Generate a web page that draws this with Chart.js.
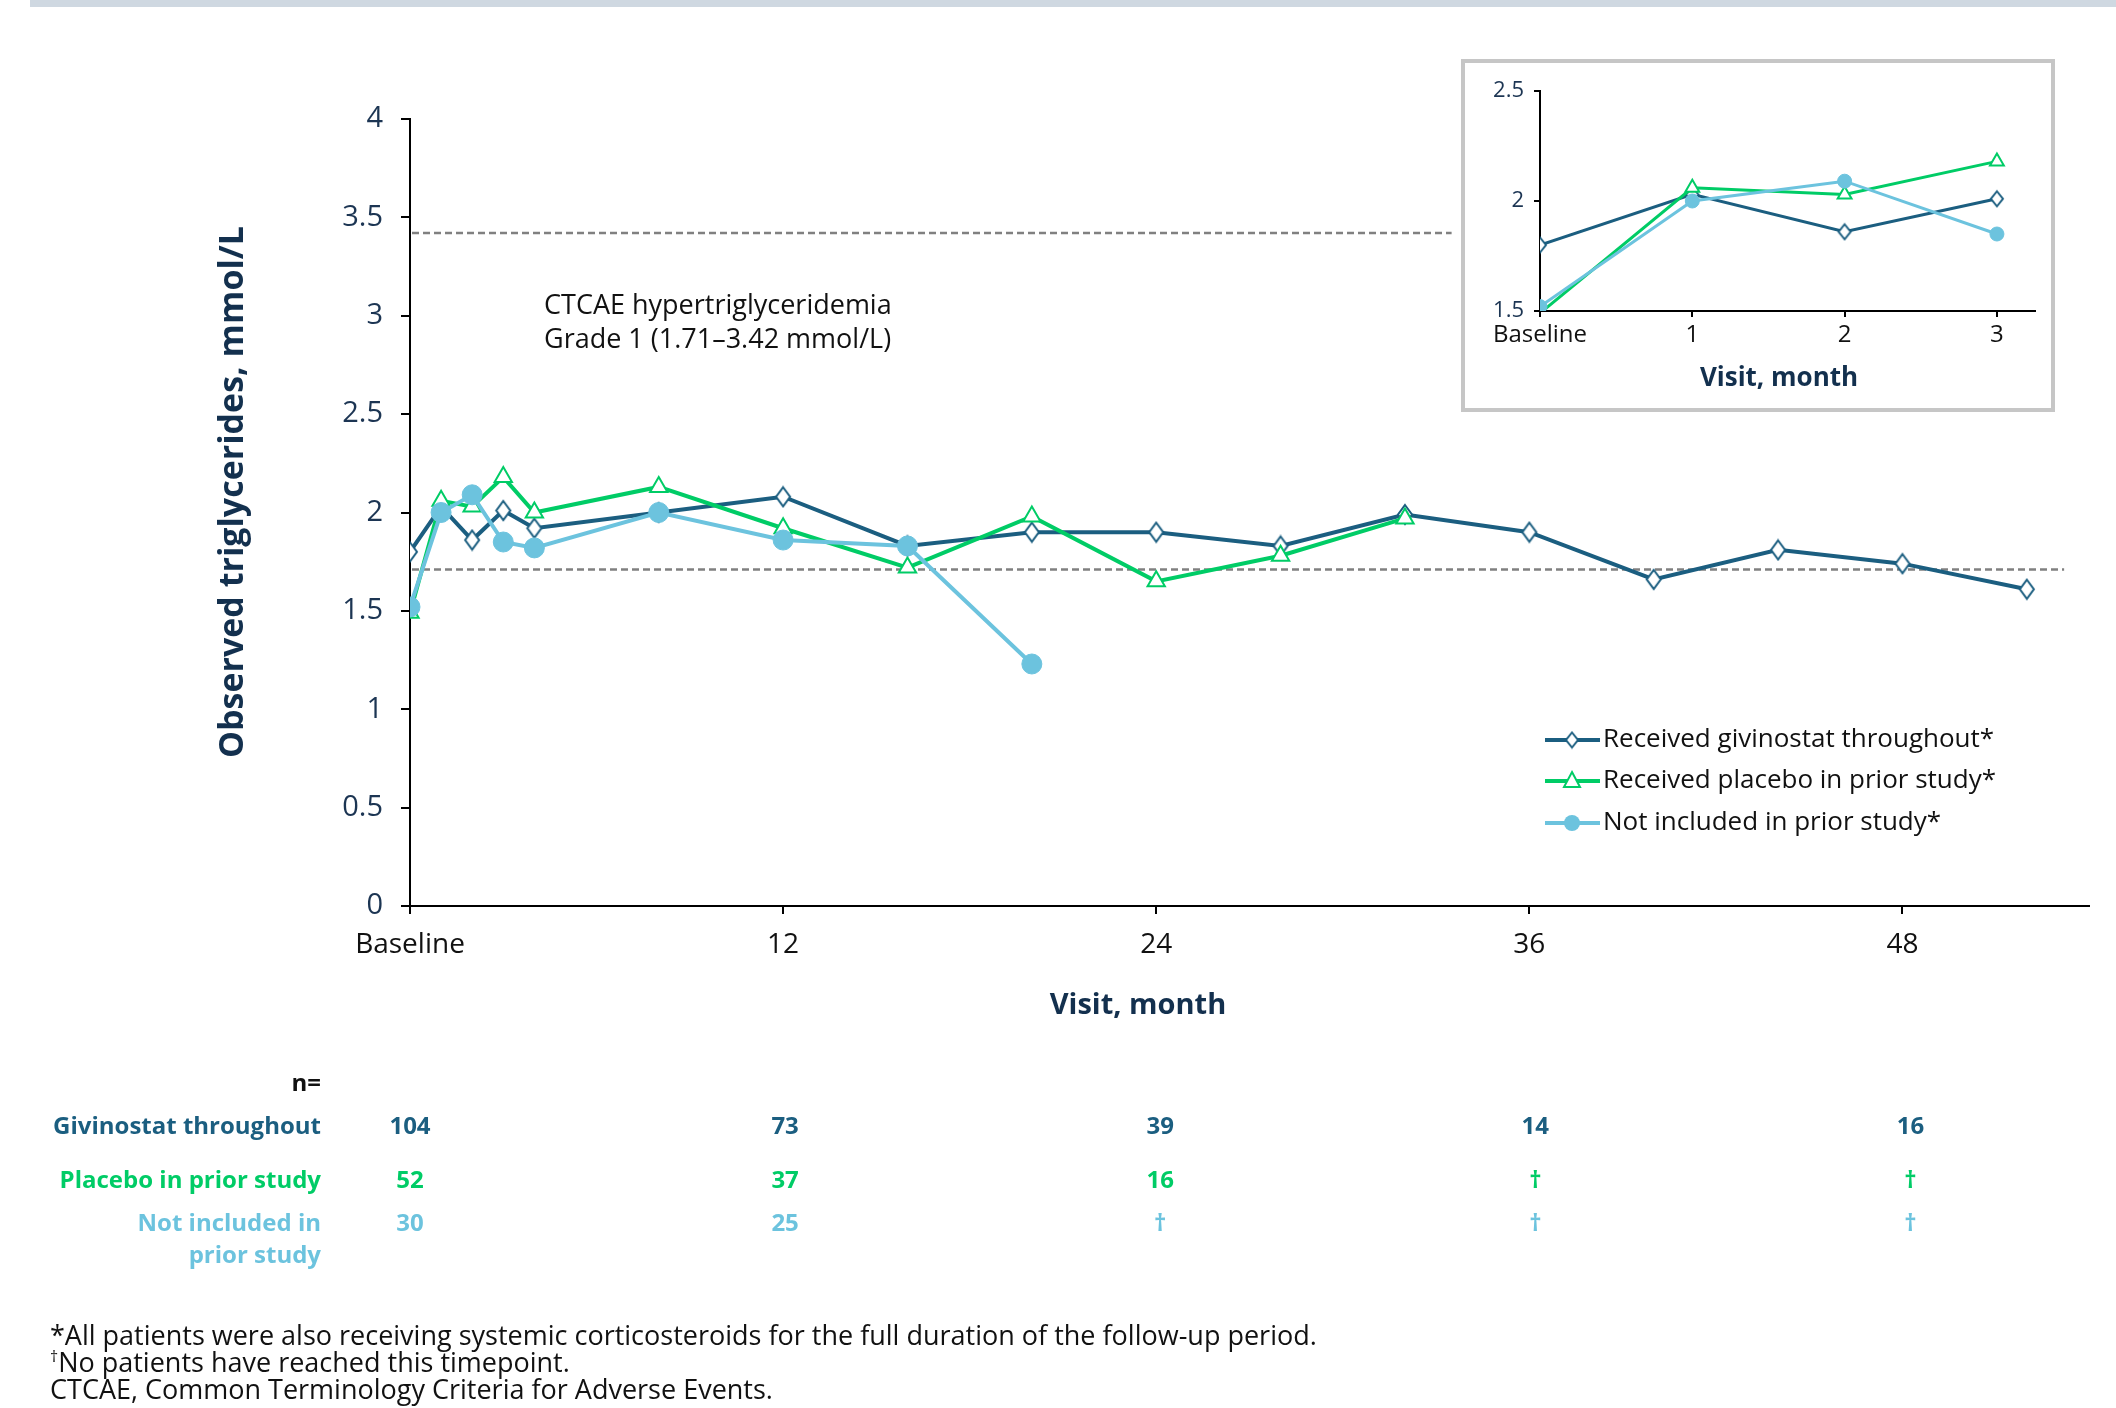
<!DOCTYPE html>
<html lang="en">
<head>
<meta charset="UTF-8">
<title>Observed triglycerides by visit</title>
<script src="https://cdn.jsdelivr.net/npm/chart.js"></script>
<style>
  html, body { margin: 0; padding: 0; background: #fff; }
  body { width: 2116px; height: 1408px; position: relative; overflow: hidden; font-family: 'Open Sans', sans-serif; }
  #topBar { position: absolute; left: 30px; top: 0; width: 2086px; height: 7px; background: #cfd8e1; }
  #mainChart { position: absolute; left: 0; top: 0; }
  #insetBox { position: absolute; left: 1461px; top: 59px; width: 586px; height: 345px; border: 4px solid #c6c6c6; background: #fff; }
  #insetChart { position: absolute; left: 0; top: 0; }
</style>
</head>
<body>
<div id="topBar"></div>
<canvas id="mainChart" width="2116" height="1408"></canvas>
<div id="insetBox"><canvas id="insetChart" width="586" height="345"></canvas></div>

<script>
// --- data ---
const seriesNames = ['Received givinostat throughout*', 'Received placebo in prior study*', 'Not included in prior study*'];
const givinostatMonths = [0, 1, 2, 3, 4, 8, 12, 16, 20, 24, 28, 32, 36, 40, 44, 48, 52];
const givinostatValues = [1.80, 2.03, 1.86, 2.01, 1.92, 2.00, 2.08, 1.83, 1.90, 1.90, 1.83, 1.99, 1.90, 1.66, 1.81, 1.74, 1.61];
const placeboMonths = [0, 1, 2, 3, 4, 8, 12, 16, 20, 24, 28, 32];
const placeboValues = [1.49, 2.06, 2.03, 2.18, 2.00, 2.13, 1.92, 1.72, 1.98, 1.65, 1.78, 1.97];
const notIncludedMonths = [0, 1, 2, 3, 4, 8, 12, 16, 20];
const notIncludedValues = [1.52, 2.00, 2.09, 1.85, 1.82, 2.00, 1.86, 1.83, 1.23];

const xTickValues = [0, 12, 24, 36, 48];
const insetTickValues = [0, 1, 2, 3];
const gradeLow = 1.71, gradeHigh = 3.42;

const tableMonths = [0, 12, 24, 36, 48];
const tableLabels = [['Givinostat throughout'], ['Placebo in prior study'], ['Not included in', 'prior study']];
const nGivinostat = ['104', '73', '39', '14', '16'];
const nPlacebo = ['52', '37', '16', '\u2020', '\u2020'];
const nNotIncluded = ['30', '25', '\u2020', '\u2020', '\u2020'];

const footnotes = [
  ['*', 'All patients were also receiving systemic corticosteroids for the full duration of the follow-up period.'],
  ['\u2020', 'No patients have reached this timepoint.'],
  ['', 'CTCAE, Common Terminology Criteria for Adverse Events.']
];

// --- styling ---
const FONT = "'Open Sans', sans-serif";
const DARK = '#1b5e80';
const GREEN = '#00cc66';
const LIGHT = '#6cc3de';
const NAVY = '#1c3553';
const TEXT = '#111111';

const toXY = (xs, ys) => xs.map((x, i) => ({ x: x, y: ys[i] }));
const fmtNum = v => String(Math.round(v * 10) / 10);

function makeDiamond(w, h, color, lw) {
  const c = document.createElement('canvas');
  c.width = w + lw * 2; c.height = h + lw * 2;
  const g = c.getContext('2d');
  const cx = c.width / 2, cy = c.height / 2;
  g.beginPath();
  g.moveTo(cx, cy - h / 2); g.lineTo(cx + w / 2, cy);
  g.lineTo(cx, cy + h / 2); g.lineTo(cx - w / 2, cy); g.closePath();
  g.fillStyle = '#fff'; g.fill();
  g.lineWidth = lw; g.strokeStyle = color; g.stroke();
  return c;
}

const bigDiamond = makeDiamond(14, 19, DARK, 2);
const smallDiamond = makeDiamond(12, 15, DARK, 2);

function buildDatasets(small) {
  const lim = small ? (m => m <= 3) : (() => true);
  const pick = (xs, ys) => toXY(xs, ys).filter(p => lim(p.x));
  return [
    {
      label: seriesNames[0], data: pick(givinostatMonths, givinostatValues),
      borderColor: DARK, borderWidth: small ? 3 : 4,
      pointStyle: small ? smallDiamond : bigDiamond, order: 3
    },
    {
      label: seriesNames[1], data: pick(placeboMonths, placeboValues),
      borderColor: GREEN, borderWidth: small ? 3 : 4,
      pointStyle: 'triangle', pointRadius: small ? 8 : 10, pointBackgroundColor: '#fff',
      pointBorderColor: GREEN, pointBorderWidth: 2, order: 2
    },
    {
      label: seriesNames[2], data: pick(notIncludedMonths, notIncludedValues),
      borderColor: LIGHT, borderWidth: small ? 3 : 4,
      pointStyle: 'circle', pointRadius: small ? 7 : 10, pointBackgroundColor: LIGHT,
      pointBorderColor: LIGHT, pointBorderWidth: 1, order: 1
    }
  ];
}

// extra drawing for the main chart: reference lines, text, legend, n table, footnotes
const mainExtras = {
  id: 'mainExtras',
  beforeDatasetsDraw(chart) {
    const { ctx, scales: { x, y } } = chart;
    ctx.save();
    ctx.strokeStyle = '#808080';
    ctx.lineWidth = 2.5;
    ctx.setLineDash([7, 4]);
    [[gradeHigh, 33.5], [gradeLow, 53.2]].forEach(([v, end]) => {
      const py = y.getPixelForValue(v);
      ctx.beginPath();
      ctx.moveTo(x.getPixelForValue(0) + 2, py);
      ctx.lineTo(x.getPixelForValue(end), py);
      ctx.stroke();
    });
    ctx.restore();
  },
  afterDraw(chart) {
    const { ctx, scales: { x }, chartArea } = chart;
    ctx.save();
    ctx.textBaseline = 'middle';

    // annotation
    ctx.fillStyle = TEXT;
    ctx.font = '27px ' + FONT;
    ctx.textAlign = 'left';
    ctx.fillText('CTCAE hypertriglyceridemia', 544, 306);
    ctx.fillText('Grade 1 (1.71\u20133.42 mmol/L)', 544, 340);

    // axis titles
    ctx.fillStyle = '#13304e';
    ctx.font = 'bold 34px ' + FONT;
    ctx.textAlign = 'center';
    ctx.save();
    ctx.translate(233, 492);
    ctx.rotate(-Math.PI / 2);
    ctx.fillText('Observed triglycerides, mmol/L', 0, 0);
    ctx.restore();
    ctx.font = 'bold 29px ' + FONT;
    ctx.fillText('Visit, month', 1138, 1006);

    // legend
    const colors = [DARK, GREEN, LIGHT];
    const rows = [740, 781, 823];
    rows.forEach((ry, i) => {
      ctx.strokeStyle = colors[i];
      ctx.lineWidth = 4;
      ctx.beginPath(); ctx.moveTo(1545, ry); ctx.lineTo(1600, ry); ctx.stroke();
      const mx = 1572;
      if (i === 0) {
        ctx.drawImage(smallDiamond, mx - smallDiamond.width / 2, ry - smallDiamond.height / 2);
      } else if (i === 1) {
        ctx.beginPath();
        ctx.moveTo(mx, ry - 9); ctx.lineTo(mx + 8, ry + 6); ctx.lineTo(mx - 8, ry + 6); ctx.closePath();
        ctx.fillStyle = '#fff'; ctx.fill();
        ctx.lineWidth = 2; ctx.strokeStyle = GREEN; ctx.stroke();
      } else {
        ctx.beginPath(); ctx.arc(mx, ry, 8, 0, Math.PI * 2);
        ctx.fillStyle = LIGHT; ctx.fill();
      }
      ctx.fillStyle = TEXT;
      ctx.font = '26px ' + FONT;
      ctx.textAlign = 'left';
      ctx.fillText(seriesNames[i], 1603, ry);
    });

    // n table
    ctx.font = 'bold 24px ' + FONT;
    ctx.textAlign = 'right';
    ctx.fillStyle = TEXT;
    ctx.fillText('n=', 321, 1084);
    const tableRows = [
      { label: tableLabels[0], vals: nGivinostat, color: DARK, y: 1127 },
      { label: tableLabels[1], vals: nPlacebo, color: GREEN, y: 1181 },
      { label: tableLabels[2], vals: nNotIncluded, color: LIGHT, y: 1224 }
    ];
    tableRows.forEach(r => {
      ctx.fillStyle = r.color;
      ctx.textAlign = 'right';
      r.label.forEach((t, k) => ctx.fillText(t, 321, r.y + k * 32));
      ctx.textAlign = 'center';
      r.vals.forEach((v, k) => ctx.fillText(v, x.getPixelForValue(tableMonths[k]) + k * 2, r.y));
    });

    // footnotes
    ctx.fillStyle = TEXT;
    ctx.textAlign = 'left';
    const fy = [1337, 1364, 1391];
    footnotes.forEach(([mark, txt], i) => {
      let px = 50;
      if (mark === '*') {
        ctx.font = '27px ' + FONT;
        ctx.fillText(mark + txt, px, fy[i]);
      } else if (mark) {
        ctx.font = '16px ' + FONT;
        ctx.fillText(mark, px, fy[i] - 7);
        px += ctx.measureText(mark).width;
        ctx.font = '27px ' + FONT;
        ctx.fillText(txt, px, fy[i]);
      } else {
        ctx.font = '27px ' + FONT;
        ctx.fillText(txt, px, fy[i]);
      }
    });
    ctx.restore();
  }
};

const axisCommon = {
  grid: { display: true, drawOnChartArea: false, drawTicks: true, color: '#000', lineWidth: 2 },
  border: { display: true, color: '#000', width: 2 }
};

new Chart(document.getElementById('mainChart'), {
  type: 'line',
  data: { datasets: buildDatasets(false) },
  options: {
    responsive: false,
    animation: false,
    layout: { padding: { top: 119, right: 27, bottom: 0, left: 0 } },
    plugins: { legend: { display: false }, tooltip: { enabled: false } },
    elements: { line: { tension: 0 } },
    scales: {
      x: {
        type: 'linear', min: 0, max: 54,
        afterBuildTicks: s => { s.ticks = xTickValues.map(v => ({ value: v })); },
        ticks: {
          callback: v => v === 0 ? 'Baseline' : String(v),
          font: { size: 28, family: FONT }, color: TEXT, padding: 14,
          maxRotation: 0, autoSkip: false
        },
        grid: Object.assign({}, axisCommon.grid, { tickLength: 8 }),
        border: axisCommon.border,
        afterFit: s => { s.height = 502; }
      },
      y: {
        min: 0, max: 4,
        ticks: { stepSize: 0.5, callback: fmtNum, font: { size: 29, family: FONT }, color: NAVY, padding: 18 },
        grid: Object.assign({}, axisCommon.grid, { tickLength: 9 }),
        border: axisCommon.border,
        afterFit: s => { s.width = 410; }
      }
    }
  },
  plugins: [mainExtras]
});

// inset: first three months
const insetExtras = {
  id: 'insetExtras',
  afterDraw(chart) {
    const { ctx } = chart;
    ctx.save();
    ctx.fillStyle = '#13304e';
    ctx.font = 'bold 26px ' + FONT;
    ctx.textAlign = 'center';
    ctx.textBaseline = 'middle';
    ctx.fillText('Visit, month', 314, 316);
    ctx.restore();
  }
};

new Chart(document.getElementById('insetChart'), {
  type: 'line',
  data: { datasets: buildDatasets(true) },
  options: {
    responsive: false,
    animation: false,
    layout: { padding: { top: 28, right: 16, bottom: 0, left: 0 } },
    plugins: { legend: { display: false }, tooltip: { enabled: false } },
    scales: {
      x: {
        type: 'linear', min: 0, max: 3.25,
        afterBuildTicks: s => { s.ticks = insetTickValues.map(v => ({ value: v })); },
        ticks: {
          callback: v => v === 0 ? 'Baseline' : String(v),
          font: { size: 24, family: FONT }, color: TEXT, padding: 4,
          maxRotation: 0, autoSkip: false
        },
        grid: Object.assign({}, axisCommon.grid, { tickLength: 6 }),
        border: axisCommon.border,
        afterFit: s => { s.height = 97; }
      },
      y: {
        min: 1.5, max: 2.5,
        ticks: { stepSize: 0.5, callback: fmtNum, font: { size: 22, family: FONT }, color: NAVY, padding: 10 },
        grid: Object.assign({}, axisCommon.grid, { tickLength: 6 }),
        border: axisCommon.border,
        afterFit: s => { s.width = 75; }
      }
    }
  },
  plugins: [insetExtras]
});
</script>
</body>
</html>
